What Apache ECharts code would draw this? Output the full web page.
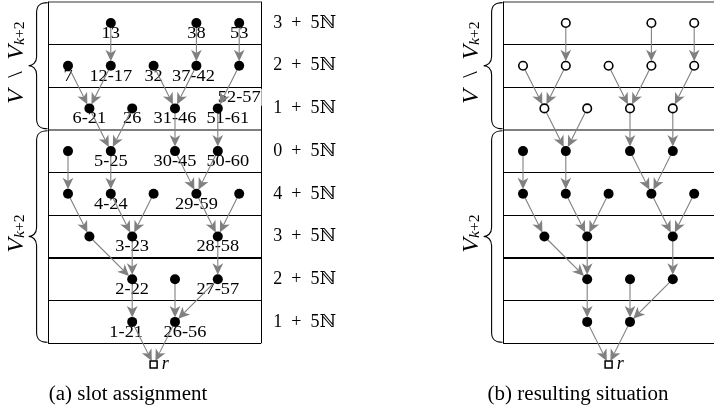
<!DOCTYPE html>
<html><head><meta charset="utf-8">
<script src="https://cdn.jsdelivr.net/npm/echarts@6/dist/echarts.min.js"></script>
<style>html,body{margin:0;padding:0;background:#fff}#c{width:714px;height:413px}</style>
</head><body><div id="c"></div>
<script>
// ---------- data ----------
const rowLabels = ['3 + 5ℕ','2 + 5ℕ','1 + 5ℕ','0 + 5ℕ','4 + 5ℕ','3 + 5ℕ','2 + 5ℕ','1 + 5ℕ'];
const nodeCols = [2,6,8, 0,2,4,6,8, 1,3,5,7, 0,2,5,7, 0,2,4,6,8, 1,3,7, 3,5,7, 3,5];
const nodeRows = [1,1,1, 2,2,2,2,2, 3,3,3,3, 4,4,4,4, 5,5,5,5,5, 6,6,6, 7,7,7, 8,8];
const nodeLabels = ['13','38','53', '7','12-17','32','37-42','52-57', '6-21','26','31-46','51-61',
  '','5-25','30-45','50-60', '','4-24','','29-59','', '','3-23','28-58', '2-22','','27-57', '1-21','26-56'];
const edgeFrom = [0,1,2,3,4,5,6,7,8,9,10,11,12,13,14,15,16,17,18,19,20,21,22,23,24,25,26,27,28];
const edgeTo   = [4,6,7,8,8,10,10,11,13,13,14,15,16,17,19,19,21,22,22,23,23,24,24,26,27,28,28,29,29];
const rootCol = 4, rootRow = 9, rootLabel = 'r';
const rowBounds = [0.5,1.5,2.5,3.5,4.5,5.5,6.5,7.5,8.5];
const braceRanges = [[0.5,3.5],[3.5,8.5]];
const braceTexts = ['{v|V}{o|\u2002\\\u2002}{v|V}{s|k}{t|+2}', '{v|V}{s|k}{t|+2}'];
const captions = ['(a) slot assignment','(b) resulting situation'];

// ---------- layout / style ----------
const FONT = "'Liberation Serif','DejaVu Serif',serif";
const GRAY = '#808080';
const colStep = 21.4, rowStep = 42.7, panelShift = 455;
const X_MIN = -1, X_MAX = 8.5, Y_MIN = 0.5, Y_MAX = 9.5;
const BOX_L = -0.93, BOX_R = 9.02;
const ROOT = nodeCols.length;
const labelShift = {'52-57':[0,21], '51-61':[10,0], '50-60':[10,0], '26-56':[10,0], '1-21':[-6,0], '37-42':[-3,0]};

function pos(i){ return i === ROOT ? [rootCol, rootRow] : [nodeCols[i], nodeRows[i]]; }
function crisp(v, w){ return (Math.round(w) % 2 === 1) ? Math.round(v - 0.5) + 0.5 : Math.round(v); }
function lineStyleFor(r){
  if (r === 0.5) return {c:'#777', w:1.6};
  if (r === 3.5) return {c:'#555', w:1.6};
  if (r === 6.5) return {c:'#000', w:2};
  return {c:'#000', w:1};
}

const grid = [0,1].map(p => ({
  left: 46.6 + p*panelShift, top: 1.65,
  width: (X_MAX - X_MIN)*colStep, height: (Y_MAX - Y_MIN)*rowStep,
  containLabel: false, outerBoundsMode: 'none'
}));
const xAxis = [0,1].map(p => ({gridIndex:p, type:'value', min:X_MIN, max:X_MAX, show:false}));
const yAxis = [0,1].map(p => ({gridIndex:p, type:'value', min:Y_MIN, max:Y_MAX, inverse:true, show:false}));

const series = [];
[0,1].forEach(p => {
  const ax = {xAxisIndex:p, yAxisIndex:p, coordinateSystem:'cartesian2d'};
  // horizontal row lines
  series.push(Object.assign({type:'custom', z:1, silent:true, data: rowBounds.map(r => [r]),
    renderItem(params, api){
      const r = api.value(0); const st = lineStyleFor(r);
      const a = api.coord([BOX_L, r]), b = api.coord([BOX_R, r]);
      const y = crisp(a[1], st.w);
      return {type:'line', shape:{x1:a[0], y1:y, x2:b[0], y2:y}, style:{stroke:st.c, lineWidth:st.w}};
    }}, ax));
  // vertical box sides
  series.push(Object.assign({type:'custom', z:1, silent:true, data: [[BOX_L],[BOX_R]],
    renderItem(params, api){
      const xv = api.value(0);
      const a = api.coord([xv, rowBounds[0]]), b = api.coord([xv, rowBounds[rowBounds.length-1]]);
      const x = crisp(a[0], 1);
      return {type:'line', shape:{x1:x, y1:a[1], x2:x, y2:b[1]}, style:{stroke:'#000', lineWidth:1}};
    }}, ax));
  // braces
  series.push(Object.assign({type:'custom', z:1, silent:true, data: braceRanges.map((b,i)=>[i]),
    renderItem(params, api){
      const i = api.value(0); const br = braceRanges[i];
      const a = api.coord([BOX_L, br[0]]), b = api.coord([BOX_L, br[1]]);
      const xr = a[0] - 0.5, xs = xr - 11, xt = xr - 19;
      const yT = a[1] + 1, yB = b[1] - 1, yM = (yT + yB)/2;
      const path = `M${xr},${yT} C${xs+3},${yT} ${xs},${yT+3} ${xs},${yT+10} L${xs},${yM-9} ` +
        `C${xs},${yM-3} ${xt+4},${yM} ${xt},${yM} C${xt+4},${yM} ${xs},${yM+3} ${xs},${yM+9} ` +
        `L${xs},${yB-10} C${xs},${yB-3} ${xs+3},${yB} ${xr},${yB}`;
      return {type:'group', children:[
        {type:'path', shape:{pathData:path}, style:{fill:null, stroke:'#000', lineWidth:1.1}},
        {type:'text', x: xr - 31, y: yM - 3, rotation: Math.PI/2, scaleX: 1.05,
          style:{text: braceTexts[i], align:'center', verticalAlign:'middle', fill:'#000',
            rich:{
              v:{fontSize:23, fontFamily:FONT, fontStyle:'italic', lineHeight:24},
              o:{fontSize:22, fontFamily:FONT, lineHeight:24},
              s:{fontSize:15, fontFamily:FONT, fontStyle:'italic', lineHeight:15, padding:[6,0,0,0]},
              t:{fontSize:15, fontFamily:FONT, lineHeight:15, padding:[6,0,0,0]}
            }}}
      ]};
    }}, ax));
  // node labels (panel a only)
  if (p === 0) {
    const idx = nodeLabels.map((s,i)=>s ? i : -1).filter(i => i >= 0);
    series.push(Object.assign({type:'custom', z:2, silent:true, data: idx.map(i => [i]),
      renderItem(params, api){
        const i = api.value(0); const c = api.coord(pos(i));
        const sh = labelShift[nodeLabels[i]] || [0,0];
        return {type:'text', x:c[0] + sh[0], y:c[1] + 10.5 + sh[1], scaleX:1.08,
          style:{text: nodeLabels[i], align:'center', verticalAlign:'middle', fill:'#000',
            fontSize:17, fontFamily:FONT, backgroundColor: sh[1] ? '#fff' : null, padding:[0,1]}};
      }}, ax));
    // row labels
    series.push(Object.assign({type:'custom', z:2, silent:true, data: rowLabels.map((s,i)=>[i]),
      renderItem(params, api){
        const i = api.value(0); const c = api.coord([BOX_R, i + 1]);
        return {type:'text', x:c[0] + 43.5, y:c[1], scaleX:1.0,
          style:{text: rowLabels[i].replace(/ /g, '\u2002'), align:'center', verticalAlign:'middle',
            fill:'#000', fontSize:18, fontFamily:FONT}};
      }}, ax));
  }
  // edges with arrowheads
  series.push(Object.assign({type:'custom', z:3, silent:true, data: edgeFrom.map((f,k)=>[f, edgeTo[k]]),
    renderItem(params, api){
      const f = api.value(0), t = api.value(1);
      const p1 = api.coord(pos(f)), p2 = api.coord(pos(t));
      let dx = p2[0]-p1[0], dy = p2[1]-p1[1]; const L = Math.hypot(dx, dy); dx /= L; dy /= L;
      const gap = t === ROOT ? 4 : 4.5, len = 11.5, hw = 5.4;
      const tip = [p2[0]-dx*gap, p2[1]-dy*gap];
      const back = [tip[0]-dx*len, tip[1]-dy*len];
      const notch = [tip[0]-dx*len*0.72, tip[1]-dy*len*0.72];
      const nx = -dy, ny = dx;
      return {type:'group', children:[
        {type:'line', shape:{x1:p1[0], y1:p1[1], x2:notch[0], y2:notch[1]}, style:{stroke:GRAY, lineWidth:1.1}},
        {type:'polygon', shape:{points:[tip, [back[0]+nx*hw, back[1]+ny*hw], notch, [back[0]-nx*hw, back[1]-ny*hw]]},
          style:{fill:GRAY}}
      ]};
    }}, ax));
  // nodes
  const openMax = braceRanges[0][1];
  series.push({type:'scatter', xAxisIndex:p, yAxisIndex:p, z:4, silent:true, symbol:'circle',
    data: nodeCols.map((c,i) => {
      const open = p === 1 && nodeRows[i] < openMax;
      return {value:[c, nodeRows[i]], symbolSize: open ? 8.5 : 10,
        itemStyle: open ? {color:'#fff', borderColor:'#000', borderWidth:1.6, opacity:1}
                        : {color:'#000', opacity:1}};
    })});
  // root
  series.push({type:'scatter', xAxisIndex:p, yAxisIndex:p, z:4, silent:true, symbol:'rect', symbolSize:7,
    data:[[rootCol, rootRow]], itemStyle:{color:'#fff', borderColor:'#000', borderWidth:1.5, opacity:1},
    label:{show:true, formatter: rootLabel, position:'right', distance:4, color:'#000',
      fontSize:18, fontStyle:'italic', fontFamily:FONT}});
});

const chart = echarts.init(document.getElementById('c'), null, {renderer:'canvas'});
chart.setOption({
  animation:false, backgroundColor:'#fff',
  grid, xAxis, yAxis, series,
  graphic: captions.map((t,i) => ({type:'text', x: 128 + i*450, y: 395, scaleX:1.05,
    style:{text:t, align:'center', verticalAlign:'middle', fontSize:20, fontFamily:FONT, fill:'#000'}}))
});
</script></body></html>
